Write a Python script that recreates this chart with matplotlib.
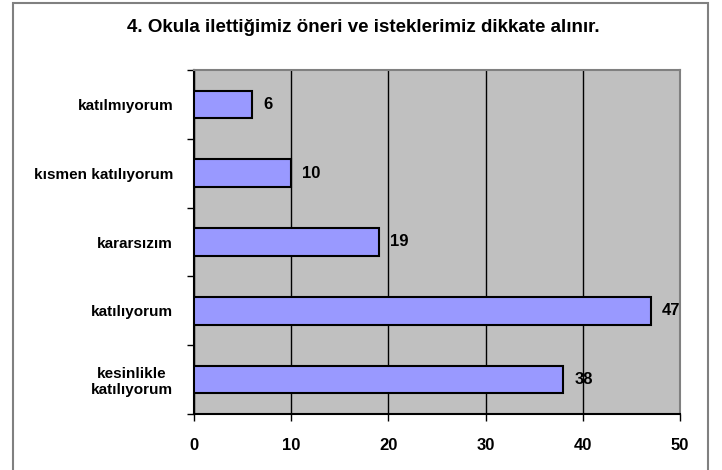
import matplotlib.pyplot as plt
from matplotlib.patches import Rectangle

# Survey answers, top to bottom as in the chart
categories = ["katılmıyorum", "kısmen katılıyorum", "kararsızım", "katılıyorum", "kesinlikle\nkatılıyorum"]
counts = [6, 10, 19, 47, 38]
xticks = [0, 10, 20, 30, 40, 50]

plt.rcParams['font.family'] = ['Liberation Sans', 'DejaVu Sans']

fig = plt.figure(figsize=(7.22, 4.70), dpi=100)

# outer frame (bottom edge falls outside the image)
fig.patches.append(Rectangle((13 / 722, -0.05), 695 / 722, 1.05 - 3 / 470, transform=fig.transFigure,
                             fill=False, edgecolor="#808080", linewidth=1.5))

ax = fig.add_axes([194 / 722, 56 / 470, 486 / 722, 344 / 470])
ax.set_facecolor("#C0C0C0")

ypos = list(range(len(categories)))[::-1]
ax.barh(ypos, counts, height=0.4, color="#9999FF", edgecolor="black", linewidth=1.5, zorder=3)

for y, v in zip(ypos, counts):
    ax.annotate(str(v), (v, y), xytext=(8, 0), textcoords="offset points",
                va="center", ha="left", fontsize=12, fontweight="bold")

ax.set_xlim(0, 50)
ax.set_ylim(-0.5, len(categories) - 0.5)
ax.set_xticks(xticks)
ax.set_xticklabels([str(t) for t in xticks], fontsize=12, fontweight="bold")
ax.tick_params(axis="x", length=5, width=1, pad=12, direction="out")
ax.xaxis.grid(True, color="black", linewidth=1, zorder=1)
ax.set_axisbelow(True)

ax.set_yticks(ypos)
ax.set_yticklabels(categories, fontsize=11, fontweight="bold", multialignment="center")
ax.tick_params(axis="y", length=0, pad=15)
ax.set_yticks([i - 0.5 for i in range(len(categories) + 1)], minor=True)
ax.tick_params(axis="y", which="minor", length=5, width=1, direction="out")

ax.spines["left"].set_color("black")
ax.spines["bottom"].set_color("black")
ax.spines["top"].set_color("#808080")
ax.spines["right"].set_color("#808080")
for s in ax.spines.values():
    s.set_linewidth(1.5)

fig.text(0.503, 1 - 28 / 470, "4. Okula ilettiğimiz öneri ve isteklerimiz dikkate alınır.",
         ha="center", va="center", fontsize=13.5, fontweight="bold")

fig.savefig("out.png", dpi=100)
